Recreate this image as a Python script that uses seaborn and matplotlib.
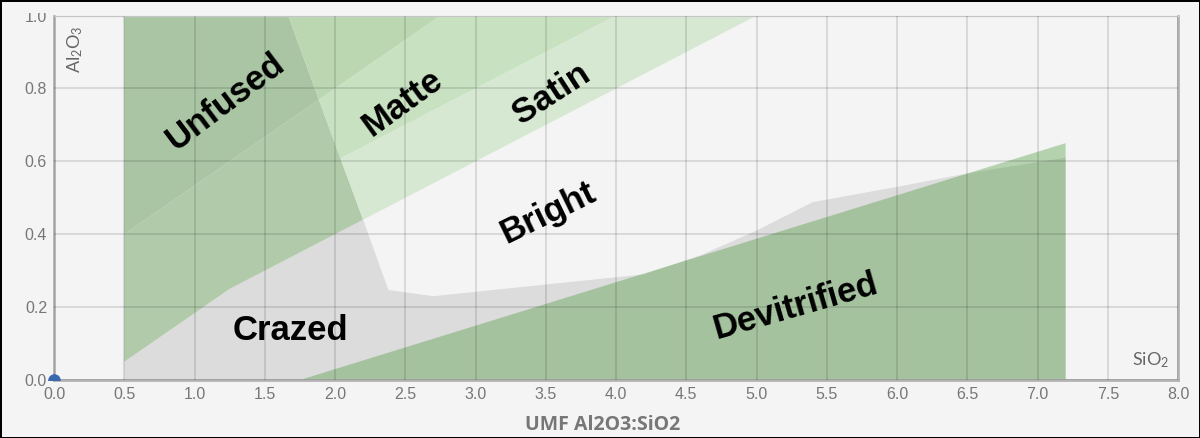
import matplotlib
matplotlib.use("Agg")
import matplotlib.pyplot as plt
import matplotlib.transforms as mtransforms
import seaborn as sns
import numpy as np

# ---------------- data (UMF SiO2 on x, Al2O3 on y) ----------------
x_ticks = [0.0, 0.5, 1.0, 1.5, 2.0, 2.5, 3.0, 3.5, 4.0, 4.5, 5.0, 5.5, 6.0, 6.5, 7.0, 7.5, 8.0]
y_ticks = [0.0, 0.2, 0.4, 0.6, 0.8, 1.0]

crazed_x = [0.5, 0.5, 1.25, 2.2, 2.38, 2.7, 4.2, 4.6, 5.0, 5.4, 6.0, 6.5, 7.2, 7.2]
crazed_y = [0.0, 0.05, 0.25, 0.44, 0.247, 0.23, 0.29, 0.342, 0.41, 0.488, 0.53, 0.567, 0.61, 0.0]

unfused_low_x = [0.5, 0.5, 1.885, 2.2, 1.25]
unfused_low_y = [0.05, 0.40, 0.769, 0.44, 0.25]

unfused_top_x = [0.5, 0.5, 1.667, 1.885]
unfused_top_y = [0.40, 1.0, 1.0, 0.769]

matte_top_x = [1.667, 2.75, 1.885]
matte_top_y = [1.0, 1.0, 0.769]

matte_x = [1.885, 2.75, 4.0, 2.038]
matte_y = [0.769, 1.0, 1.0, 0.608]

satin_x = [2.038, 4.0, 5.0, 2.2]
satin_y = [0.608, 1.0, 1.0, 0.44]

devit_x = [1.75, 7.2, 7.2]
devit_y = [0.0, 0.65, 0.0]

point_x = [0.0]
point_y = [0.0]

region_names = ["Unfused", "Matte", "Satin", "Bright", "Crazed", "Devitrified"]

# ---------------- style ----------------
sns.set_theme(style="white")
plt.rcParams["font.family"] = ["Liberation Sans", "DejaVu Sans"]
plt.rcParams["mathtext.default"] = "regular"

BG = "#f4f4f4"
W, H = 1200, 438
fig = plt.figure(figsize=(12, 4.38), dpi=100, facecolor=BG)
fig.patch.set_edgecolor("black")
fig.patch.set_linewidth(2)
ax = fig.add_axes([0.045, 0.1324, 0.9367, 0.832])
ax.set_facecolor(BG)

ax.fill(crazed_x, crazed_y, color="#dcdcdc", lw=0, zorder=1)
ax.fill(unfused_low_x, unfused_low_y, color="#b1cbaa", lw=0, zorder=1)
ax.fill(unfused_top_x, unfused_top_y, color="#a9c5a3", lw=0, zorder=1)
ax.fill(matte_top_x, matte_top_y, color="#bad7b2", lw=0, zorder=1)
ax.fill(matte_x, matte_y, color="#c8e1c1", lw=0, zorder=1)
ax.fill(satin_x, satin_y, color="#d6e8d1", lw=0, zorder=1)
ax.fill(devit_x, devit_y, color=(38/255, 134/255, 18/255), alpha=0.3, lw=0, zorder=1.2)

sns.scatterplot(x=point_x, y=point_y, ax=ax, color="#3b69b0", s=70,
                edgecolor="#3b69b0", zorder=4, legend=False)
# the point is cut only by the x axis line in the reference
dot_clip = mtransforms.TransformedBbox(
    mtransforms.Bbox([[0, 0], [1, 1]]),
    mtransforms.Affine2D().scale(W, H - 58).translate(0, 58))
for coll in ax.collections[-1:]:
    coll.set_clip_box(dot_clip)
    coll.set_clip_path(None)

ax.set_xlim(0, 8)
ax.set_ylim(0, 1)
ax.set_xticks(x_ticks)
ax.set_yticks(y_ticks)
ax.set_xticklabels([f"{v:.1f}" for v in x_ticks])
ax.set_yticklabels([f"{v:.1f}" for v in y_ticks])
ax.tick_params(length=0, labelsize=11.5, labelcolor="#777777", pad=5)
ax.grid(True, color="black", alpha=0.12, lw=1.3)
ax.set_axisbelow(False)

# top tick label is cut by the chart's frame in the reference
top_lbl = ax.yaxis.get_major_ticks()[-1].label1
top_lbl.set_clip_box(mtransforms.TransformedBbox(mtransforms.Bbox([[0, 0], [1, 1]]),
                                                 mtransforms.Affine2D().scale(W, H - 13)))
top_lbl.set_clip_on(True)

for s in ["left", "bottom", "right"]:
    ax.spines[s].set_color("#b3b3b3")
    ax.spines[s].set_linewidth(2)
ax.spines["top"].set_color("#dddddd")
ax.spines["top"].set_linewidth(1)

ax.set_xlabel("UMF Al2O3:SiO2", fontsize=14, fontweight="bold", color="#777777",
              family=["Open Sans", "DejaVu Sans"])
ax.xaxis.set_label_coords(0.488, -0.095)
ax.set_ylabel("")

ax.text(0.0187, 0.972, "Al$_2$O$_3$", transform=ax.transAxes, rotation=90,
        ha="center", va="top", fontsize=13, color="#666666",
        family=["Lato", "DejaVu Sans"], zorder=5)
ax.text(0.992, 0.027, "SiO$_2$", transform=ax.transAxes,
        ha="right", va="bottom", fontsize=13, color="#666666",
        family=["Lato", "DejaVu Sans"], zorder=5)

label_pos = {
    "Unfused": (1.22, 0.765, 37),
    "Matte": (2.48, 0.76, 36),
    "Satin": (3.54, 0.784, 33),
    "Bright": (3.52, 0.46, 26),
    "Crazed": (1.68, 0.137, 0),
    "Devitrified": (5.28, 0.203, 16),
}
for name in region_names:
    lx, ly, rot = label_pos[name]
    ax.text(lx, ly, name, ha="center", va="center", rotation=rot,
            rotation_mode="anchor", fontsize=25, fontweight="bold",
            color="black", zorder=5)

fig.savefig("out.png", dpi=100, facecolor=BG, edgecolor="black")
